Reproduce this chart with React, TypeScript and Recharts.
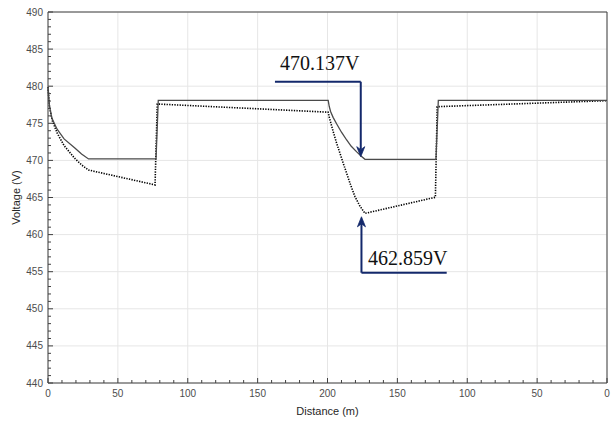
import { CartesianGrid, Line, LineChart, ReferenceLine, XAxis, YAxis } from "recharts";

// Distance axis runs 0 -> 200 -> 0 (mirrored feeder), drawn on a 0..400 scale.
const majorDist = [0, 50, 100, 150, 200, 250, 300, 350, 400];
const minorDist = Array.from({ length: 41 }, (_, i) => i * 10);
const majorVolt = [440, 445, 450, 455, 460, 465, 470, 475, 480, 485, 490];
const minorVolt = Array.from({ length: 51 }, (_, i) => 440 + i);

// solid trace
const solidDist = [0, 0.5, 1, 2.75, 6.5, 11.5, 19, 24, 29, 77.3, 78.9, 200.5, 201.2, 202.2, 204, 206.6, 210, 213.7, 217, 220.9, 224, 226.8, 277.6, 279.3, 400];
const solidVolt = [479.9, 478.6, 477.4, 475.7, 474.2, 472.9, 471.7, 470.85, 470.2, 470.2, 478.1, 478.1, 477.3, 476.6, 475.8, 474.9, 473.8, 472.75, 471.9, 471.15, 470.6, 470.14, 470.14, 478.1, 478.1];

// dotted trace
const dotDist = [0, 0.5, 1, 3, 6.5, 11.5, 19, 24, 29, 76.6, 78.2, 200.5, 201.3, 202.3, 204.1, 206.5, 208.9, 211.3, 213.7, 216.7, 219.7, 223.2, 226.8, 277.2, 278.5, 400];
const dotVolt = [479.9, 478.6, 477.3, 475.4, 473.7, 472.0, 470.3, 469.4, 468.7, 466.7, 477.6, 476.5, 475.8, 475.1, 473.87, 472.35, 470.96, 469.6, 468.26, 466.6, 465.1, 463.85, 462.86, 465.03, 477.24, 478.05];

// annotation arrows: [start, corner, tip] in data units
const topLabel = "470.137V";
const topArrow = [{ x: 162.4, y: 480.6 }, { x: 223.8, y: 480.6 }, { x: 223.8, y: 470.5 }];
const bottomLabel = "462.859V";
const bottomArrow = [{ x: 285.3, y: 454.86 }, { x: 224.3, y: 454.86 }, { x: 224.3, y: 462.4 }];

const solidData = solidDist.map((d, i) => ({ d, v: solidVolt[i] }));
const dotData = dotDist.map((d, i) => ({ d, v: dotVolt[i] }));

const FRAME = "#404040";
const TICK_TEXT = "#4d4d4d";
const NAVY = "#13286b";

const fmtDist = (v: number) => String(v <= 200 ? v : 400 - v);

function BottomTick({ x, y, payload }: any) {
  const v = payload.value;
  const major = v % 50 === 0;
  return (
    <g>
      <line x1={x} y1={y} x2={x} y2={y - (major ? 5 : 3)} stroke={FRAME} />
      {major && (
        <text x={x} y={y + 14} textAnchor="middle" fontSize={10} fill={TICK_TEXT}>
          {fmtDist(v)}
        </text>
      )}
    </g>
  );
}

function TopTick({ x, y, payload }: any) {
  const major = payload.value % 50 === 0;
  return <line x1={x} y1={y} x2={x} y2={y + (major ? 5 : 3)} stroke={FRAME} />;
}

function LeftTick({ x, y, payload }: any) {
  const v = payload.value;
  const major = v % 5 === 0;
  return (
    <g>
      <line x1={x} y1={y} x2={x + (major ? 5 : 3)} y2={y} stroke={FRAME} />
      {major && (
        <text x={x - 5} y={y + 3.5} textAnchor="end" fontSize={10} fill={TICK_TEXT}>
          {v}
        </text>
      )}
    </g>
  );
}

function RightTick({ x, y, payload }: any) {
  const major = payload.value % 5 === 0;
  return <line x1={x} y1={y} x2={x - (major ? 5 : 3)} y2={y} stroke={FRAME} />;
}

// plain segment, optionally with a text sitting above its left end
const labelSegment = (text: string, dx: number, dy: number) => (props: any) => {
  const { x1, y1, x2, y2 } = props;
  return (
    <g>
      <line x1={x1} y1={y1} x2={x2} y2={y2} stroke={NAVY} strokeWidth={2} />
      <text
        x={Math.min(x1, x2) + dx}
        y={y1 + dy}
        fontFamily="'Liberation Serif', 'Times New Roman', serif"
        fontSize={20}
        fill="#111"
      >
        {text}
      </text>
    </g>
  );
};

// segment ending in an arrowhead at its second point
const arrowSegment = (props: any) => {
  const { x1, y1, x2, y2 } = props;
  const len = Math.hypot(x2 - x1, y2 - y1) || 1;
  const ux = (x2 - x1) / len;
  const uy = (y2 - y1) / len;
  const L = 10;
  const W = 4;
  const bx = x2 - ux * L;
  const by = y2 - uy * L;
  const nx = x2 - ux * 7;
  const ny = y2 - uy * 7;
  const head = `M${x2},${y2} L${bx - uy * W},${by + ux * W} L${nx},${ny} L${bx + uy * W},${by - ux * W} Z`;
  return (
    <g>
      <line x1={x1} y1={y1} x2={nx} y2={ny} stroke={NAVY} strokeWidth={2} />
      <path d={head} fill={NAVY} stroke={NAVY} strokeWidth={0.8} />
    </g>
  );
};

export default function App() {
  return (
    <div
      style={{
        position: "absolute",
        left: 0,
        top: 0,
        width: 612,
        height: 423,
        background: "#fff",
        fontFamily: "'Liberation Sans', Arial, sans-serif",
      }}
    >
      <LineChart width={612} height={423} margin={{ top: 0, right: 0, left: 0, bottom: 0 }}>
        <CartesianGrid stroke="#e6e6e6" verticalValues={majorDist} horizontalValues={majorVolt} />
        <XAxis
          dataKey="d"
          type="number"
          domain={[0, 400]}
          ticks={minorDist}
          interval={0}
          height={40}
          tickSize={0}
          tickMargin={0}
          tickLine={false}
          axisLine={{ stroke: FRAME }}
          tick={<BottomTick />}
          label={{
            content: ({ viewBox }: any) => (
              <text
                x={viewBox.x + viewBox.width / 2}
                y={viewBox.y + 32}
                textAnchor="middle"
                fontSize={11}
                fill="#262626"
              >
                Distance (m)
              </text>
            ),
          }}
        />
        <XAxis
          xAxisId="top"
          orientation="top"
          dataKey="d"
          type="number"
          domain={[0, 400]}
          ticks={minorDist}
          interval={0}
          height={12}
          tickSize={0}
          tickMargin={0}
          tickLine={false}
          axisLine={{ stroke: FRAME }}
          tick={<TopTick />}
        />
        <YAxis
          type="number"
          domain={[440, 490]}
          ticks={minorVolt}
          interval={0}
          width={48}
          tickSize={0}
          tickMargin={0}
          tickLine={false}
          axisLine={{ stroke: FRAME }}
          tick={<LeftTick />}
          label={{
            content: ({ viewBox }: any) => {
              const cx = viewBox.x + 20;
              const cy = viewBox.y + viewBox.height / 2;
              return (
                <text
                  x={cx}
                  y={cy}
                  transform={`rotate(-90 ${cx} ${cy})`}
                  textAnchor="middle"
                  fontSize={11}
                  fill="#262626"
                >
                  Voltage (V)
                </text>
              );
            },
          }}
        />
        <YAxis
          yAxisId="right"
          orientation="right"
          type="number"
          domain={[440, 490]}
          ticks={minorVolt}
          interval={0}
          width={5}
          tickSize={0}
          tickMargin={0}
          tickLine={false}
          axisLine={{ stroke: FRAME }}
          tick={<RightTick />}
        />
        <Line
          data={dotData}
          dataKey="v"
          type="linear"
          dot={false}
          stroke="#000"
          strokeWidth={1.6}
          strokeDasharray="1.3 1.3"
          isAnimationActive={false}
        />
        <Line
          data={solidData}
          dataKey="v"
          type="linear"
          dot={false}
          stroke="#4a4a4a"
          strokeWidth={1.3}
          isAnimationActive={false}
        />
        <ReferenceLine segment={[topArrow[0], topArrow[1]]} shape={labelSegment(topLabel, 5, -11.5)} />
        <ReferenceLine segment={[topArrow[1], topArrow[2]]} shape={arrowSegment} />
        <ReferenceLine segment={[bottomArrow[1], bottomArrow[0]]} shape={labelSegment(bottomLabel, 6.5, -8)} />
        <ReferenceLine segment={[bottomArrow[1], bottomArrow[2]]} shape={arrowSegment} />
      </LineChart>
    </div>
  );
}
